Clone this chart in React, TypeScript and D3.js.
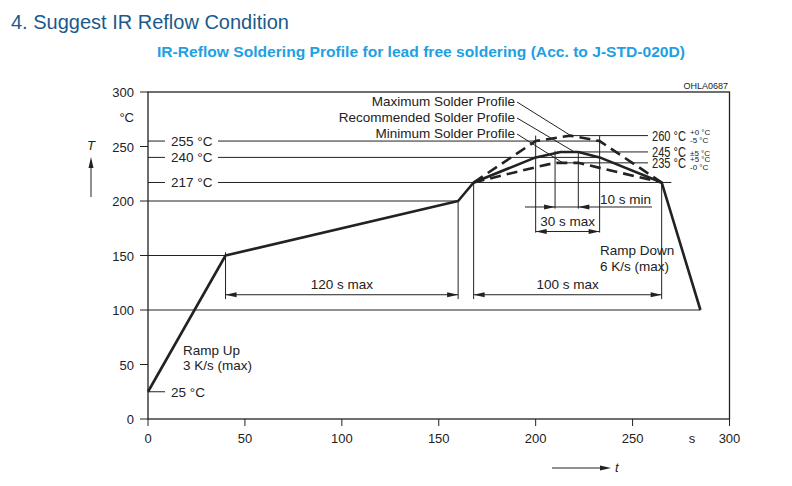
import * as d3 from 'd3';

// solder profiles, [time s, temperature °C]
const recommended: [number, number][] = [
  [0, 25], [40, 150], [160, 200], [168, 217], [200, 240], [213, 245],
  [222, 245], [233, 240], [265, 217], [285, 100],
];
const maxProfile: [number, number][] = [[168, 217], [200, 255], [218, 260], [233, 255], [265, 217]];
const minProfile: [number, number][] = [[168, 217], [200, 231], [210, 235], [222, 235], [265, 217]];

const xTicks = [0, 50, 100, 150, 200, 250, 300];
const yTicks = [0, 50, 100, 150, 200, 250, 300];

// left reference levels: [temp, line end (s)]
const leftLevels: [number, number][] = [[255, 233], [240, 233], [217, 270]];
// right reference levels: [temp, line start (s), tolerance top, tolerance bottom]
const rightLevels: [number, number, string, string][] = [
  [260, 219, '+0 °C', '-5 °C'],
  [245, 211, '±5 °C', ''],
  [235, 211, '+5 °C', '-0 °C'],
];
// plain grid lines: [temp, end (s)]
const gridLines: [number, number][] = [[200, 160], [150, 40], [100, 285]];

// dimension markers: [from s, to s, level °C, label]
const spans: [number, number, number, string][] = [
  [40, 160, 114, '120 s max'],
  [168, 265, 114, '100 s max'],
  [200, 233, 172, '30 s max'],
];
// vertical guides: [time, top °C, bottom °C]
const guides: [number, number, number][] = [
  [40, 153, 110], [160, 201, 110], [168, 217, 110], [265, 217, 110],
  [200, 260, 171], [233, 260, 171], [210, 246, 193], [222, 245, 193],
];

const legendRows = ['Maximum Solder Profile', 'Recommended Solder Profile', 'Minimum Solder Profile'];
const legendTargets: [number, number][] = [[219, 259], [220, 245], [214, 235]];

const FONT = '"Liberation Sans", Arial, sans-serif';
const INK = '#222';

export default function App() {
  const x = d3.scaleLinear().domain([0, 300]).range([148, 729.5]);
  const y = d3.scaleLinear().domain([0, 300]).range([419, 92]);
  const line = d3.line<[number, number]>().x(d => x(d[0])).y(d => y(d[1]));

  const arrowR = (px: number, py: number) => `M${px},${py} L${px - 11},${py - 2.5} L${px - 11},${py + 2.5} Z`;
  const arrowL = (px: number, py: number) => `M${px},${py} L${px + 11},${py - 2.5} L${px + 11},${py + 2.5} Z`;

  return (
    <svg width={792} height={486} style={{ position: 'absolute', left: 0, top: 0, background: '#fff' }}
      fontFamily={FONT}>
      <text x={11} y={29} fontSize={20} fill="#1b5a8c">4. Suggest IR Reflow Condition</text>
      <text x={157} y={57} fontSize={15} fontWeight="bold" fill="#1ea0e2" textLength={528} lengthAdjust="spacingAndGlyphs">
        IR-Reflow Soldering Profile for lead free soldering (Acc. to J-STD-020D)
      </text>
      <text x={728} y={89} fontSize={9} fill={INK} textAnchor="end">OHLA0687</text>

      {/* frame */}
      <rect x={x(0)} y={y(300)} width={x(300) - x(0)} height={y(0) - y(300)} fill="none" stroke={INK} strokeWidth={1.3} />

      {/* y ticks */}
      {yTicks.map(t => (
        <g key={'y' + t}>
          <line x1={x(0) - 8} x2={x(0)} y1={y(t)} y2={y(t)} stroke={INK} />
          <text x={134} y={y(t) + 5} fontSize={13} fill={INK} textAnchor="end">{t}</text>
        </g>
      ))}
      <text x={134} y={122} fontSize={13} fill={INK} textAnchor="end">°C</text>
      <text x={91} y={150} fontSize={13} fontStyle="italic" fill={INK} textAnchor="middle">T</text>
      <line x1={91} x2={91} y1={197} y2={166} stroke={INK} />
      <path d="M91,157 L88.5,168 L93.5,168 Z" fill={INK} />

      {/* x ticks */}
      {xTicks.map(t => (
        <g key={'x' + t}>
          <line x1={x(t)} x2={x(t)} y1={y(0)} y2={y(0) + 7} stroke={INK} />
          <text x={x(t)} y={443} fontSize={13} fill={INK} textAnchor="middle">{t}</text>
        </g>
      ))}
      <text x={692} y={443} fontSize={13} fill={INK} textAnchor="middle">s</text>
      <line x1={552} x2={602} y1={468} y2={468} stroke={INK} />
      <path d={arrowR(611, 468)} fill={INK} />
      <text x={615} y={472} fontSize={13} fontStyle="italic" fill={INK}>t</text>

      {/* grid lines */}
      {gridLines.map(([t, e]) => (
        <line key={'g' + t} x1={x(0)} x2={x(e)} y1={y(t)} y2={y(t)} stroke={INK} />
      ))}

      {/* left reference levels */}
      {leftLevels.map(([t, e]) => (
        <g key={'l' + t}>
          <line x1={x(0)} x2={x(0) + 17} y1={y(t)} y2={y(t)} stroke={INK} />
          <text x={171} y={y(t) + 5} fontSize={13.5} fill={INK}>{t} °C</text>
          <line x1={218} x2={x(e)} y1={y(t)} y2={y(t)} stroke={INK} />
        </g>
      ))}
      <line x1={x(0)} x2={x(0) + 17} y1={y(25)} y2={y(25)} stroke={INK} />
      <text x={171} y={y(25) + 5} fontSize={13.5} fill={INK}>25 °C</text>

      {/* right reference levels */}
      {rightLevels.map(([t, s, up, dn]) => (
        <g key={'r' + t}>
          <line x1={x(s)} x2={648} y1={y(t)} y2={y(t)} stroke={INK} />
          <text x={652} y={y(t) + 5} fontSize={14} fill={INK} textLength={34} lengthAdjust="spacingAndGlyphs">{t} °C</text>
          {dn ? (
            <>
              <text x={690} y={y(t) - 1} fontSize={8} fill={INK}>{up}</text>
              <text x={690} y={y(t) + 7} fontSize={8} fill={INK}>{dn}</text>
            </>
          ) : (
            <text x={690} y={y(t) + 4} fontSize={8} fill={INK}>{up}</text>
          )}
        </g>
      ))}

      {/* vertical guides */}
      {guides.map(([t, a, b]) => (
        <line key={'v' + t} x1={x(t)} x2={x(t)} y1={y(a)} y2={y(b)} stroke={INK} />
      ))}

      {/* dimension spans */}
      {spans.map(([a, b, lv, label]) => (
        <g key={label}>
          <line x1={x(a)} x2={x(b)} y1={y(lv)} y2={y(lv)} stroke={INK} />
          <path d={arrowL(x(a), y(lv))} fill={INK} />
          <path d={arrowR(x(b), y(lv))} fill={INK} />
          <text x={(x(a) + x(b)) / 2} y={y(lv) - 6} fontSize={13.5} fill={INK} textAnchor="middle">{label}</text>
        </g>
      ))}
      {/* 10 s min */}
      <line x1={x(194.5)} x2={x(260)} y1={y(194.5)} y2={y(194.5)} stroke={INK} />
      <path d={arrowR(x(210), y(194.5))} fill={INK} />
      <path d={arrowL(x(222), y(194.5))} fill={INK} />
      <text x={651} y={y(194.5) - 3} fontSize={13.5} fill={INK} textAnchor="end">10 s min</text>

      {/* profiles */}
      <path d={line(maxProfile) ?? ''} fill="none" stroke={INK} strokeWidth={2.6} strokeDasharray="11,6" />
      <path d={line(minProfile) ?? ''} fill="none" stroke={INK} strokeWidth={2.6} strokeDasharray="11,6" />
      <path d={line(recommended) ?? ''} fill="none" stroke={INK} strokeWidth={2.6} strokeLinejoin="round" />

      {/* legend with leaders */}
      {legendRows.map((name, i) => (
        <g key={name}>
          <text x={515} y={106 + i * 16} fontSize={13.5} fill={INK} textAnchor="end">{name}</text>
          <line x1={517} x2={x(legendTargets[i][0])} y1={102 + i * 16} y2={y(legendTargets[i][1])} stroke={INK} />
        </g>
      ))}

      <text x={183} y={355} fontSize={13.5} fill={INK}>Ramp Up</text>
      <text x={183} y={370} fontSize={13.5} fill={INK}>3 K/s (max)</text>
      <text x={600} y={255} fontSize={13.5} fill={INK}>Ramp Down</text>
      <text x={600} y={271} fontSize={13.5} fill={INK}>6 K/s (max)</text>
    </svg>
  );
}
